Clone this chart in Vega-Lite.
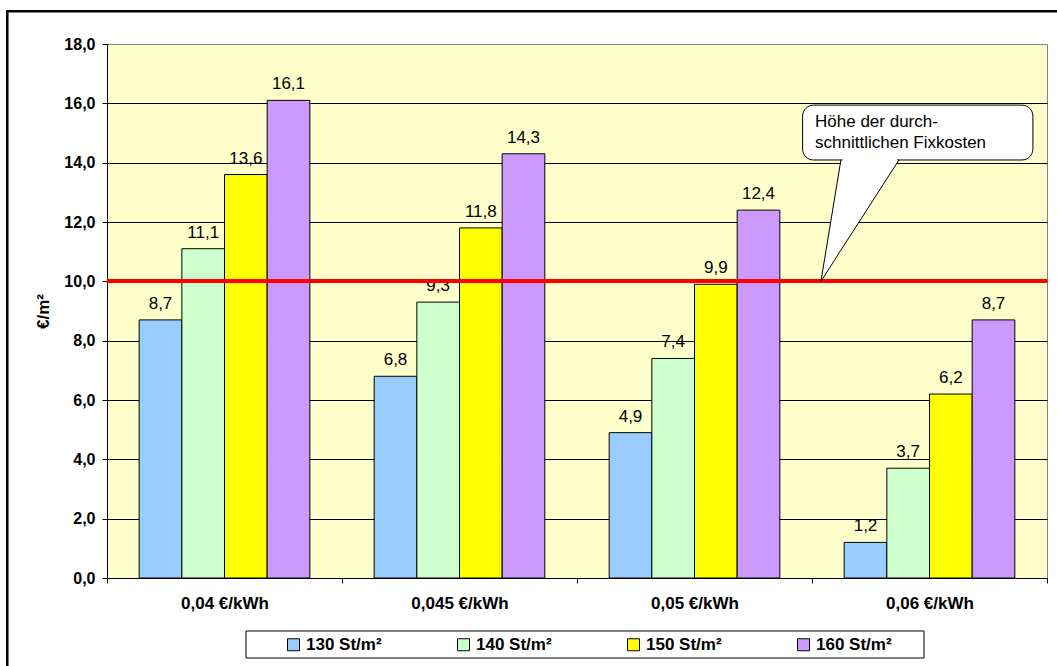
{
  "$schema": "https://vega.github.io/schema/vega-lite/v6.json",
  "width": 940,
  "height": 534,
  "autosize": {"type": "none"},
  "padding": {"left": 107, "top": 44, "right": 10, "bottom": 88},
  "background": "white",
  "config": {
    "font": "Liberation Sans",
    "locale": {"number": {"decimal": ",", "thousands": ".", "grouping": [3], "currency": ["", " €"]}},
    "view": {"fill": "#FFFFCC", "stroke": "#808080", "strokeWidth": 1}
  },
  "datasets": {
    "bars": [
      {"cat": "0,04 €/kWh", "s": "130 St/m²", "v": 8.7},
      {"cat": "0,04 €/kWh", "s": "140 St/m²", "v": 11.1},
      {"cat": "0,04 €/kWh", "s": "150 St/m²", "v": 13.6},
      {"cat": "0,04 €/kWh", "s": "160 St/m²", "v": 16.1},
      {"cat": "0,045 €/kWh", "s": "130 St/m²", "v": 6.8},
      {"cat": "0,045 €/kWh", "s": "140 St/m²", "v": 9.3},
      {"cat": "0,045 €/kWh", "s": "150 St/m²", "v": 11.8},
      {"cat": "0,045 €/kWh", "s": "160 St/m²", "v": 14.3},
      {"cat": "0,05 €/kWh", "s": "130 St/m²", "v": 4.9},
      {"cat": "0,05 €/kWh", "s": "140 St/m²", "v": 7.4},
      {"cat": "0,05 €/kWh", "s": "150 St/m²", "v": 9.9},
      {"cat": "0,05 €/kWh", "s": "160 St/m²", "v": 12.4},
      {"cat": "0,06 €/kWh", "s": "130 St/m²", "v": 1.2},
      {"cat": "0,06 €/kWh", "s": "140 St/m²", "v": 3.7},
      {"cat": "0,06 €/kWh", "s": "150 St/m²", "v": 6.2},
      {"cat": "0,06 €/kWh", "s": "160 St/m²", "v": 8.7}
    ],
    "frame": [{"x1": -0.4243, "x2": 4.3, "y1": 19.1, "y2": -3.4}],
    "legendbox": [{"x1": 0.5915, "x2": 3.4766, "y1": -1.786, "y2": -2.697}],
    "bubble": [{"x1": 2.96, "x2": 3.94, "y1": 15.94, "y2": 14.09}],
    "pointer": [
      {"x": 3.038, "y": 10.0, "y2": 10.0},
      {"x": 3.123, "y": 14.09, "y2": 11.05},
      {"x": 3.370, "y": 14.09, "y2": 14.09}
    ],
    "gap": [{"x1": 3.129, "x2": 3.363, "y1": 14.14, "y2": 14.04}],
    "note": [
      {"x": 3.013, "y": 15.38, "t": "Höhe der durch-"},
      {"x": 3.013, "y": 14.67, "t": "schnittlichen Fixkosten"}
    ]
  },
  "layer": [
    {
      "data": {"name": "frame"},
      "mark": {"type": "rect", "fill": null, "fillOpacity": 0, "stroke": "black", "strokeWidth": 2.5, "clip": false},
      "encoding": {
        "x": {"field": "x1", "type": "quantitative", "scale": {"domain": [0, 4], "nice": false, "zero": false}, "axis": null},
        "x2": {"field": "x2"},
        "y": {"field": "y1", "type": "quantitative", "scale": {"domain": [0, 18], "nice": false}},
        "y2": {"field": "y2"}
      }
    },
    {
      "data": {"name": "bars"},
      "layer": [
        {
          "mark": {"type": "bar", "stroke": "black", "strokeWidth": 1},
          "encoding": {
            "x": {
              "field": "cat", "type": "nominal", "sort": null,
              "scale": {"paddingInner": 0, "paddingOuter": 0},
              "axis": {
                "title": null, "labelAngle": 0, "labelFontSize": 17, "labelFontWeight": "bold",
                "labelColor": "black", "tickBand": "extent", "tickSize": 5, "tickColor": "black",
                "domainColor": "black", "labelPadding": 12, "grid": false
              }
            },
            "xOffset": {
              "field": "s", "type": "nominal", "sort": null,
              "scale": {"paddingInner": 0, "paddingOuter": 0.754}
            },
            "y": {
              "field": "v", "type": "quantitative",
              "scale": {"domain": [0, 18], "nice": false, "zero": true},
              "axis": {
                "values": [0, 2, 4, 6, 8, 10, 12, 14, 16, 18], "format": ".1f",
                "labelFontSize": 16, "labelFontWeight": "bold", "labelColor": "black",
                "tickColor": "black", "tickSize": 5, "labelPadding": 7,
                "domainColor": "black",
                "gridColor": {"condition": {"test": "datum.value == 18", "value": "#808080"}, "value": "black"},
                "gridWidth": 1,
                "title": "€/m²", "titleFontSize": 17, "titleFontWeight": "bold", "titleColor": "black",
                "titlePadding": 11
              }
            },
            "color": {
              "field": "s", "type": "nominal", "sort": null,
              "scale": {"range": ["#99CCFF", "#CCFFCC", "#FFFF00", "#CC99FF"]},
              "legend": {
                "orient": "none", "legendX": 178, "legendY": 592, "direction": "horizontal",
                "title": null, "padding": 0,
                "symbolType": "square", "symbolSize": 144, "symbolStrokeColor": "black", "symbolStrokeWidth": 1,
                "labelFontSize": 17, "labelFontWeight": "bold", "labelColor": "black", "labelOffset": 4,
                "columnPadding": 73
              }
            }
          }
        },
        {
          "mark": {"type": "text", "fontSize": 17, "baseline": "alphabetic", "dy": -11, "color": "black"},
          "encoding": {
            "x": {"field": "cat", "type": "nominal", "sort": null},
            "xOffset": {"field": "s", "type": "nominal", "sort": null},
            "y": {"field": "v", "type": "quantitative", "scale": {"domain": [0, 18], "nice": false}},
            "text": {"field": "v", "type": "quantitative", "format": ".1f"}
          }
        },
        {
          "mark": {"type": "rule", "color": "#FF0000", "strokeWidth": 3},
          "encoding": {"y": {"datum": 10, "type": "quantitative"}}
        }
      ]
    },
    {
      "data": {"name": "legendbox"},
      "mark": {"type": "rect", "fill": "white", "stroke": "black", "strokeWidth": 1, "clip": false},
      "encoding": {
        "x": {"field": "x1", "type": "quantitative", "scale": {"domain": [0, 4], "nice": false, "zero": false}, "axis": null},
        "x2": {"field": "x2"},
        "y": {"field": "y1", "type": "quantitative", "scale": {"domain": [0, 18], "nice": false}},
        "y2": {"field": "y2"}
      }
    },
    {
      "data": {"name": "bubble"},
      "mark": {"type": "rect", "fill": "white", "stroke": "black", "strokeWidth": 1, "cornerRadius": 11},
      "encoding": {
        "x": {"field": "x1", "type": "quantitative", "scale": {"domain": [0, 4], "nice": false, "zero": false}, "axis": null},
        "x2": {"field": "x2"},
        "y": {"field": "y1", "type": "quantitative", "scale": {"domain": [0, 18], "nice": false}},
        "y2": {"field": "y2"}
      }
    },
    {
      "data": {"name": "pointer"},
      "mark": {"type": "area", "fill": "white", "stroke": "black", "strokeWidth": 1, "orient": "vertical", "interpolate": "linear"},
      "encoding": {
        "x": {"field": "x", "type": "quantitative", "scale": {"domain": [0, 4], "nice": false, "zero": false}, "axis": null},
        "y": {"field": "y", "type": "quantitative", "scale": {"domain": [0, 18], "nice": false}},
        "y2": {"field": "y2"}
      }
    },
    {
      "data": {"name": "gap"},
      "mark": {"type": "rect", "fill": "white", "strokeWidth": 0},
      "encoding": {
        "x": {"field": "x1", "type": "quantitative", "scale": {"domain": [0, 4], "nice": false, "zero": false}, "axis": null},
        "x2": {"field": "x2"},
        "y": {"field": "y1", "type": "quantitative", "scale": {"domain": [0, 18], "nice": false}},
        "y2": {"field": "y2"}
      }
    },
    {
      "data": {"name": "note"},
      "mark": {"type": "text", "align": "left", "baseline": "middle", "fontSize": 17, "color": "black"},
      "encoding": {
        "x": {"field": "x", "type": "quantitative", "scale": {"domain": [0, 4], "nice": false, "zero": false}, "axis": null},
        "y": {"field": "y", "type": "quantitative", "scale": {"domain": [0, 18], "nice": false}},
        "text": {"field": "t"}
      }
    }
  ],
  "resolve": {"scale": {"x": "independent"}}
}
